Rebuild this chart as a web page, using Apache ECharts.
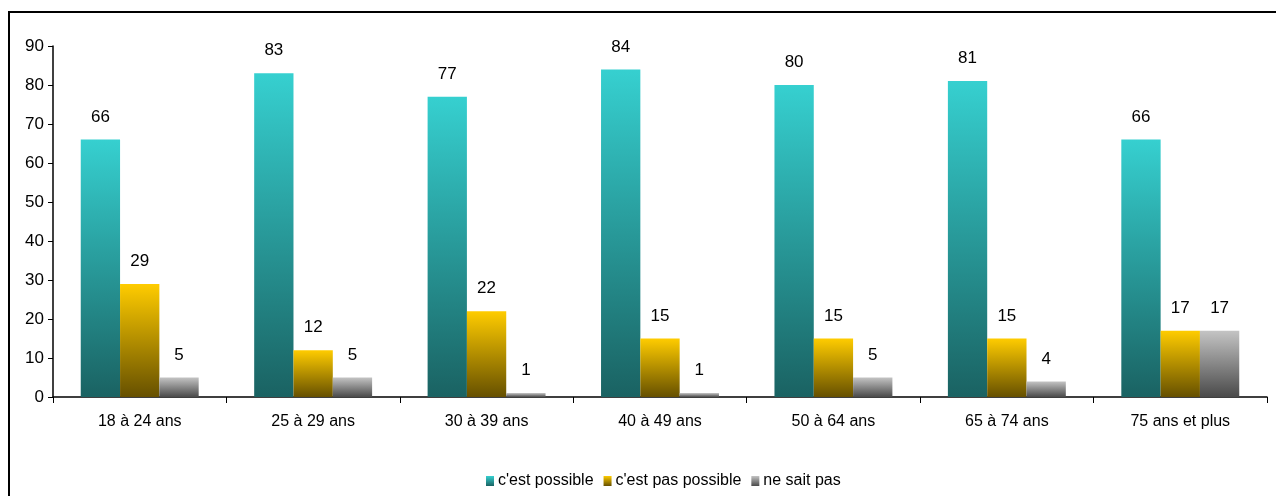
<!DOCTYPE html>
<html>
<head>
<meta charset="utf-8">
<script src="https://cdn.jsdelivr.net/npm/echarts@6/dist/echarts.min.js"></script>
<style>
  html, body { margin: 0; padding: 0; background: #fff; }
  #chart { width: 1276px; height: 496px; }
</style>
</head>
<body>
<div id="chart"></div>
<script>
// tranches d'âge
const categories = ['18 à 24 ans', '25 à 29 ans', '30 à 39 ans', '40 à 49 ans', '50 à 64 ans', '65 à 74 ans', '75 ans et plus']
const possible = [66, 83, 77, 84, 80, 81, 66]
const pasPossible = [29, 12, 22, 15, 15, 15, 17]
const neSaitPas = [5, 5, 1, 1, 5, 4, 17]
const yTicks = { min: 0, max: 90, interval: 10 }

const font = '"Liberation Sans", Arial, sans-serif'

function grad(top, bottom) {
  return new echarts.graphic.LinearGradient(0, 0, 0, 1, [
    { offset: 0, color: top },
    { offset: 1, color: bottom }
  ])
}

function makeSeries(name, data, top, bottom) {
  return {
    name: name,
    type: 'bar',
    data: data,
    barGap: '0%',
    barCategoryGap: '32%',
    itemStyle: { color: grad(top, bottom) },
    label: {
      show: true,
      position: 'top',
      distance: 14,
      color: '#000',
      fontFamily: font,
      fontSize: 17
    }
  }
}

const chart = echarts.init(document.getElementById('chart'))
chart.setOption({
  animation: false,
  textStyle: { fontFamily: font },
  graphic: [{
    type: 'rect',
    shape: { x: 9, y: 12, width: 1400, height: 700 },
    style: { fill: null, stroke: '#000', lineWidth: 2 },
    silent: true
  }],
  grid: { left: 53, right: 9, top: 46, bottom: 99 },
  legend: {
    data: ["c'est possible", "c'est pas possible", 'ne sait pas'],
    left: 481,
    top: 468,
    icon: 'rect',
    itemWidth: 8,
    itemHeight: 10,
    itemGap: 10,
    textStyle: { fontFamily: font, fontSize: 16, color: '#000', padding: [0, 0, 0, -1] }
  },
  xAxis: {
    type: 'category',
    data: categories,
    axisLine: { lineStyle: { color: '#000', width: 1.5 } },
    axisTick: { show: true, length: 6, lineStyle: { color: '#000' } },
    axisLabel: { color: '#000', fontSize: 16, margin: 17, fontFamily: font }
  },
  yAxis: {
    type: 'value',
    min: yTicks.min,
    max: yTicks.max,
    interval: yTicks.interval,
    splitLine: { show: false },
    axisLine: { show: true, lineStyle: { color: '#000', width: 1.5 } },
    axisTick: { show: true, length: 5, lineStyle: { color: '#000' } },
    axisLabel: { color: '#000', fontSize: 17, margin: 9, fontFamily: font }
  },
  series: [
    makeSeries("c'est possible", possible, '#36D0D0', '#1A6262'),
    makeSeries("c'est pas possible", pasPossible, '#FFCC00', '#665000'),
    makeSeries('ne sait pas', neSaitPas, '#C4C4C4', '#4A4A4A')
  ]
})
</script>
</body>
</html>
